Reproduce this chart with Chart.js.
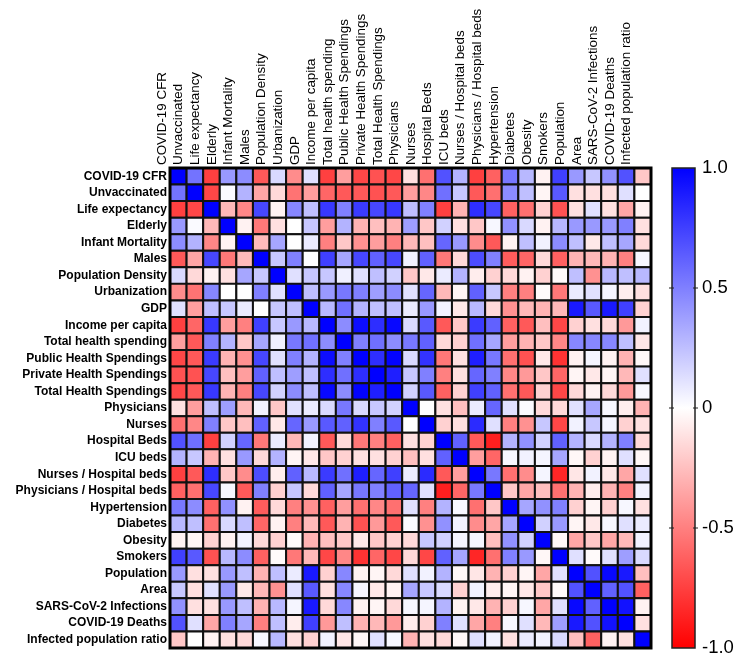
<!DOCTYPE html>
<html>
<head>
<meta charset="utf-8">
<script src="https://cdn.jsdelivr.net/npm/chart.js@4.4.1/dist/chart.umd.min.js"></script>
<style>
  html, body { margin: 0; padding: 0; background: #fff; }
  #wrap { width: 750px; height: 672px; position: relative; }
</style>
</head>
<body>
<div id="wrap"><canvas id="heat"></canvas></div>
<script>
// variable names, same order on both axes
const variables = [
  'COVID-19 CFR', 'Unvaccinated', 'Life expectancy', 'Elderly', 'Infant Mortality',
  'Males', 'Population Density', 'Urbanization', 'GDP', 'Income per capita',
  'Total health spending', 'Public Health Spendings', 'Private Health Spendings',
  'Total Health Spendings', 'Physicians', 'Nurses', 'Hospital Beds', 'ICU beds',
  'Nurses / Hospital beds', 'Physicians / Hospital beds', 'Hypertension', 'Diabetes',
  'Obesity', 'Smokers', 'Population', 'Area', 'SARS-CoV-2 Infections',
  'COVID-19 Deaths', 'Infected population ratio'
];

// lower triangle of the correlation matrix (row i holds columns 0..i-1)
const lowerTriangle = [
  [],
  [0.55],
  [-0.75, -0.72],
  [0.4, 0.02, -0.28],
  [0.45, 0.3, -0.47, -0.05],
  [-0.65, -0.35, 0.72, -0.53, -0.27],
  [0.15, -0.15, -0.05, -0.12, 0.35, 0.22],
  [-0.45, -0.55, 0.47, 0, 0, 0.5, 0.12],
  [0.12, -0.38, 0.25, 0.22, 0.08, 0, 0.22, 0.25],
  [-0.75, -0.6, 0.78, -0.38, -0.5, 0.75, 0.22, 0.4, 0.28],
  [-0.38, -0.65, 0.5, 0.3, -0.22, 0.35, 0.06, 0.53, 0.56, 0.45],
  [-0.72, -0.65, 0.77, -0.3, -0.43, 0.72, 0.12, 0.5, 0.3, 0.95, 0.5],
  [-0.68, -0.68, 0.72, -0.25, -0.38, 0.62, 0.25, 0.38, 0.25, 0.82, 0.56, 0.82],
  [-0.72, -0.65, 0.78, -0.3, -0.5, 0.72, 0.18, 0.45, 0.25, 0.97, 0.45, 0.99, 0.88],
  [-0.12, -0.38, 0.25, 0.38, -0.28, 0.05, -0.22, 0.12, 0.08, 0.15, 0.53, 0.15, 0.22, 0.18],
  [-0.56, -0.47, 0.5, -0.22, -0.25, 0.62, -0.09, 0.6, 0.4, 0.65, 0.62, 0.8, 0.5, 0.65, 0],
  [0.68, 0.56, -0.75, 0.18, 0.6, -0.53, 0.08, -0.28, 0.05, -0.65, -0.15, -0.53, -0.5, -0.62, -0.12, -0.18],
  [0.3, 0.22, -0.3, -0.12, 0.4, -0.15, 0.3, -0.04, -0.09, -0.22, -0.18, -0.12, -0.12, -0.18, -0.25, -0.12, 0.62],
  [-0.75, -0.65, 0.82, -0.22, -0.45, 0.7, -0.07, 0.62, 0.28, 0.77, 0.56, 0.88, 0.6, 0.75, 0.08, 0.83, -0.65, -0.38],
  [-0.62, -0.56, 0.72, 0.03, -0.65, 0.5, -0.18, 0.22, -0.15, 0.62, 0.35, 0.53, 0.5, 0.62, 0.6, 0.12, -0.88, -0.6, 0.53],
  [0.53, 0.45, -0.62, 0.43, -0.05, -0.64, -0.15, -0.5, -0.43, -0.62, -0.38, -0.56, -0.47, -0.56, 0.12, -0.5, 0.3, 0.03, -0.56, -0.22],
  [0.28, 0.25, -0.56, 0.15, 0.25, -0.6, -0.05, -0.5, -0.28, -0.65, -0.3, -0.68, -0.4, -0.65, 0.02, -0.43, 0.43, 0.05, -0.45, -0.35, 0.35],
  [-0.05, -0.04, -0.18, -0.05, 0.05, -0.15, -0.18, -0.02, -0.3, -0.25, -0.22, -0.09, -0.22, -0.18, -0.15, 0.22, 0.18, 0.04, 0.04, -0.25, 0.43, 0.18],
  [0.75, 0.65, -0.68, 0.28, 0.45, -0.62, -0.02, -0.53, -0.28, -0.72, -0.47, -0.8, -0.6, -0.72, -0.15, -0.72, 0.62, 0.35, -0.85, -0.56, 0.5, 0.4, -0.03],
  [0.4, -0.12, -0.12, 0.4, 0.25, -0.3, 0.25, 0.08, 0.9, -0.18, 0.47, -0.05, -0.04, -0.15, 0.12, 0.05, 0.3, -0.03, -0.1, -0.3, -0.18, -0.04, -0.35, 0.12],
  [0.22, -0.12, 0.12, 0.4, -0.09, -0.28, -0.43, 0.12, 0.65, -0.12, 0.47, 0.04, -0.09, -0.05, 0.35, 0.22, 0.15, -0.18, 0.05, -0.07, -0.04, -0.09, -0.22, -0.02, 0.68],
  [0.43, -0.12, -0.12, 0.4, 0.25, -0.3, 0.28, 0.04, 0.9, -0.15, 0.47, -0.05, -0.04, -0.15, 0.03, 0.04, 0.3, -0.05, -0.09, -0.3, -0.18, 0.03, -0.35, 0.12, 0.97, 0.62],
  [0.68, 0.12, -0.35, 0.5, 0.35, -0.5, 0.25, -0.07, 0.75, -0.4, 0.25, -0.3, -0.28, -0.4, -0.07, -0.18, 0.5, 0.12, -0.35, -0.5, 0.03, 0.12, -0.28, 0.38, 0.9, 0.68, 0.93],
  [-0.22, 0, -0.05, -0.12, -0.15, 0.03, 0.28, -0.12, -0.18, 0.05, -0.1, -0.03, 0.12, 0.03, -0.3, -0.12, -0.15, -0.03, 0.12, 0.05, -0.12, 0.08, 0.05, 0.15, -0.25, -0.62, -0.05, -0.12]
];

// colour bar ticks
const barTicks = [-1, -0.5, 0, 0.5, 1];

function corrAt(i, j) {
  if (i === j) return 1;
  return i > j ? lowerTriangle[i][j] : lowerTriangle[j][i];
}

// -1 red -> 0 white -> 1 blue
function corrColor(v) {
  const t = Math.min(1, Math.abs(v));
  const c = Math.round(255 * (1 - t));
  return v >= 0 ? `rgb(${c},${c},255)` : `rgb(255,${c},${c})`;
}

const cells = [];
variables.forEach((_, i) => {
  variables.forEach((_, j) => cells.push({ x: j, y: i, v: corrAt(i, j) }));
});

const FONT = 'Arial, "Liberation Sans", Helvetica, sans-serif';
const GRID_LEFT = 170, GRID_TOP = 168, RIGHT_BLOCK = 99, BOTTOM_PAD = 24;

const indexTicks = scale => { scale.ticks = variables.map((_, i) => ({ value: i })); };
// keep the scales from asking for extra room beyond the sizes set here
const noPad = scale => {
  scale.paddingTop = 0; scale.paddingBottom = 0;
  scale.paddingLeft = 0; scale.paddingRight = 0;
};

const cellRadius = ctx => {
  const a = ctx.chart.chartArea;
  return a ? (a.right - a.left) / variables.length / Math.SQRT2 : 0;
};

// draws the outer frame of the grid and the colour bar next to it
const framePlugin = {
  id: 'frame',
  afterDraw(chart) {
    const { ctx, chartArea: a } = chart;
    ctx.save();
    ctx.strokeStyle = '#000';
    ctx.lineWidth = 3;
    ctx.strokeRect(a.left, a.top, a.right - a.left, a.bottom - a.top);

    const s = chart.scales.c;
    const x0 = a.right + 21, w = 23;
    const yTop = s.getPixelForValue(1), yBot = s.getPixelForValue(-1);
    const g = ctx.createLinearGradient(0, yTop, 0, yBot);
    g.addColorStop(0, corrColor(1));
    g.addColorStop(0.5, corrColor(0));
    g.addColorStop(1, corrColor(-1));
    ctx.fillStyle = g;
    ctx.fillRect(x0, yTop, w, yBot - yTop);
    ctx.lineWidth = 1.5;
    ctx.strokeStyle = '#222';
    ctx.strokeRect(x0, yTop, w, yBot - yTop);
    ctx.lineWidth = 1.2;
    barTicks.filter(t => Math.abs(t) < 1).forEach(t => {
      const y = s.getPixelForValue(t);
      ctx.beginPath();
      ctx.moveTo(x0 - 3, y); ctx.lineTo(x0 + 2, y);
      ctx.moveTo(x0 + w - 2, y); ctx.lineTo(x0 + w + 3, y);
      ctx.stroke();
    });
    ctx.restore();
  }
};

new Chart(document.getElementById('heat').getContext('2d'), {
  type: 'scatter',
  data: {
    datasets: [{
      data: cells,
      pointStyle: 'rect',
      pointRadius: cellRadius,
      pointHoverRadius: cellRadius,
      backgroundColor: ctx => corrColor(ctx.raw ? ctx.raw.v : 0),
      borderColor: '#111',
      pointBorderWidth: 2,
      pointHoverBorderWidth: 2,
      clip: false
    }]
  },
  options: {
    responsive: true,
    maintainAspectRatio: false,
    animation: false,
    events: [],
    layout: { autoPadding: false, padding: { left: 0, top: 0, right: 0, bottom: BOTTOM_PAD } },
    plugins: { legend: { display: false }, tooltip: { enabled: false } },
    scales: {
      x: {
        type: 'linear',
        position: 'top',
        min: -0.5,
        max: variables.length - 0.5,
        afterBuildTicks: indexTicks,
        afterFit: scale => { scale.height = GRID_TOP; noPad(scale); },
        grid: { display: false, drawTicks: false },
        border: { display: false },
        ticks: {
          autoSkip: false,
          minRotation: 90,
          maxRotation: 90,
          padding: 3,
          color: '#000',
          font: { family: FONT, size: 13.4 },
          callback: v => variables[v]
        }
      },
      y: {
        type: 'linear',
        position: 'left',
        reverse: true,
        min: -0.5,
        max: variables.length - 0.5,
        afterBuildTicks: indexTicks,
        afterFit: scale => { scale.width = GRID_LEFT; noPad(scale); },
        grid: { display: false, drawTicks: false },
        border: { display: false },
        ticks: {
          autoSkip: false,
          padding: 3,
          color: '#000',
          font: { family: FONT, size: 12, weight: 'bold' },
          callback: v => variables[v]
        }
      },
      c: {
        axis: 'y',
        type: 'linear',
        position: 'right',
        min: -1,
        max: 1,
        afterBuildTicks: scale => { scale.ticks = barTicks.map(v => ({ value: v })); },
        afterFit: scale => { scale.width = RIGHT_BLOCK; noPad(scale); },
        grid: { display: false, drawTicks: false },
        border: { display: false },
        ticks: {
          padding: 51,
          color: '#000',
          font: { family: FONT, size: 18.5 },
          callback: v => (v === 0 ? '0' : v.toFixed(1))
        }
      }
    }
  },
  plugins: [framePlugin]
});
</script>
</body>
</html>
